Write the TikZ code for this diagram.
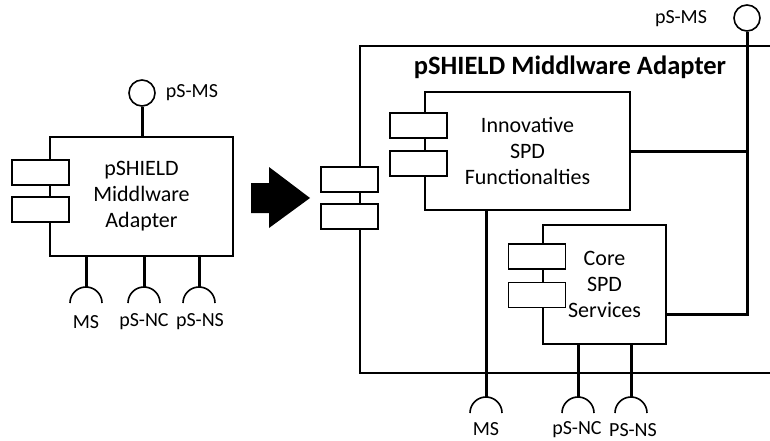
\documentclass[tikz,border=0pt]{standalone}
\usepackage{fontspec}
\setmainfont{Carlito}
\usetikzlibrary{positioning, calc}

\begin{document}
\begin{tikzpicture}[
      x=1pt, y=-1pt,
      comp/.style={draw, line width=1.6pt, fill=white, align=center,
                   inner sep=0pt, font=\fontsize{22}{26}\selectfont},
      port/.style={draw, line width=1.6pt, fill=white,
                   minimum width=57pt, minimum height=25pt, inner sep=0pt},
      iface/.style={draw, line width=1.6pt, circle, minimum size=26pt, inner sep=0pt},
      link/.style={line width=3pt},
      sock/.style={line width=1.6pt},
      lbl/.style={font=\fontsize{20}{24}\selectfont}
    ]
    \clip (0,0) rectangle (770,441);

    % left: the adapter as one component
    \node[iface] (lms) at (142,93) {};
    \node[lbl] (lmslbl) at (192,93) {pS-MS};
    \draw[link] (lms) -- (142,137);
    \node[comp, minimum width=183pt, minimum height=119pt] (lbox) at (141.5,196.5)
      {pSHIELD\\Middlware\\Adapter};
    \node[port] (lpa) at (40.5,172.5) {};
    \node[port] (lpb) at (40.5,209.5) {};

    \coordinate (lsms) at (86,287);
    \coordinate (lsnc) at (144,287);
    \coordinate (lsns) at (199,287);
    \draw[link] (lsms |- lbox.south) -- (lsms);
    \draw[link] (lsnc |- lbox.south) -- (lsnc);
    \draw[link] (lsns |- lbox.south) -- (lsns);
    \draw[sock] (lsms) ++(-16,16) arc[start angle=180, end angle=360, radius=16];
    \draw[sock] (lsnc) ++(-16,16) arc[start angle=180, end angle=360, radius=16];
    \draw[sock] (lsns) ++(-16,16) arc[start angle=180, end angle=360, radius=16];
    \node[lbl] (lmslb) at (86,322) {MS};
    \node[lbl] (lnclb) at (144,322) {pS-NC};
    \node[lbl] (lnslb) at (200,322) {pS-NS};

    % refinement arrow
    \fill (251,183) -- (269,183) -- (269,167) -- (310,198) -- (269,228)
      -- (269,213) -- (251,213) -- cycle;

    % right: the adapter opened up
    \node[comp, anchor=north west, minimum width=441pt, minimum height=327pt]
      (obox) at (359,45) {};
    \node[font=\fontsize{26.5}{30}\selectfont\bfseries] (otitle) at (570,67)
      {pSHIELD Middlware Adapter};
    \node[port] (opa) at (349.5,179.5) {};
    \node[port] (opb) at (349.5,216.5) {};

    \node[comp, minimum width=205pt, minimum height=118pt] (ibox) at (527.5,151)
      {Innovative\\SPD\\Functionalties};
    \node[port] (ipa) at (418.5,125.5) {};
    \node[port] (ipb) at (418.5,163.5) {};

    \node[comp, minimum width=123pt, minimum height=119pt] (cbox) at (604.5,284.5)
      {Core\\SPD\\Services};
    \node[port] (cpa) at (537,256.5) {};
    \node[port] (cpb) at (537,295) {};

    \node[iface] (rms) at (747,18) {};
    \node[lbl] (rmslbl) at (681,19) {pS-MS};
    \coordinate (bend) at (747,314);
    \draw[link] (rms) -- (bend) -- (cbox.east |- bend);
    \draw[link] (ibox) -- (ibox -| bend);

    \coordinate (rsms) at (486,397);
    \coordinate (rsnc) at (578,397);
    \coordinate (rsns) at (631,397);
    \draw[link] (rsms |- ibox.south) -- (rsms);
    \draw[link] (rsnc |- cbox.south) -- (rsnc);
    \draw[link] (rsns |- cbox.south) -- (rsns);
    \draw[sock] (rsms) ++(-16,16) arc[start angle=180, end angle=360, radius=16];
    \draw[sock] (rsnc) ++(-16,16) arc[start angle=180, end angle=360, radius=16];
    \draw[sock] (rsns) ++(-16,16) arc[start angle=180, end angle=360, radius=16];
    \node[lbl] (rmslb) at (486,429) {MS};
    \node[lbl] (rnclb) at (577,430) {pS-NC};
    \node[lbl] (rnslb) at (633,430) {PS-NS};
  \end{tikzpicture}
\end{document}
